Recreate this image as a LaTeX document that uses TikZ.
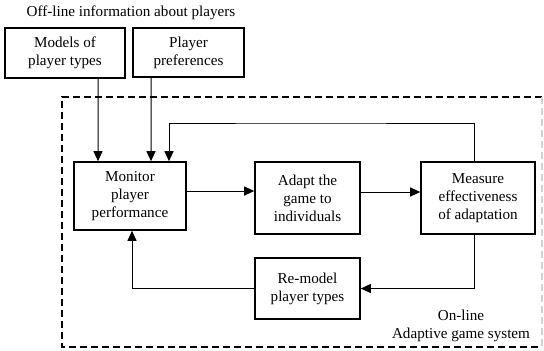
\documentclass[tikz,border=0pt]{standalone}
\usepackage{fontspec}
\setmainfont{Liberation Serif}
\usetikzlibrary{arrows.meta}

\tikzset{
  box/.style={draw, line width=1.6bp, align=center, inner sep=0pt,
    font=\fontsize{15.2}{18}\selectfont},
  arr/.style={line width=1bp, -{Triangle[length=10bp,width=9bp]}},
  txt/.style={align=center, inner sep=0pt, font=\fontsize{15.2}{18}\selectfont}
}

\begin{document}
\begin{tikzpicture}[x=1bp, y=-1bp]
\useasboundingbox (0,0) rectangle (544,350);

\def\xa{130};
\def\xb{307.5};
\def\xc{478};

\def\ya{198};
\def\yb{288.5};

% off-line part
\node[txt] (title) at (131, 13) {Off-line information about players};
\node[box, minimum width=120bp, minimum height=50bp] (models) at (65, 53) {Models of\\player types};
\node[box, minimum width=111bp, minimum height=49bp] (prefs) at (188.5, 52.5) {Player\\preferences};

% on-line system
\draw[line width=1.6bp, dash pattern=on 7bp off 4bp] (542,97) -- (62,97) -- (62,347) -- (542,347);
\draw[line width=1.2bp, gray!35, dash pattern=on 7bp off 4bp] (542,97) -- (542,347);

\node[box, minimum width=112bp, minimum height=68bp] (monitor) at (\xa, 196) {Monitor\\player\\performance};
\node[box, minimum width=105bp, minimum height=72bp] (adapt) at (\xb, \ya) {Adapt the\\game to\\individuals};
\node[box, minimum width=114bp, minimum height=72bp] (measure) at (\xc, \ya) {Measure\\effectiveness\\of adaptation};
\node[box, minimum width=105bp, minimum height=61bp] (remodel) at (\xb, \yb) {Re-model\\player types};
\node[txt] (online) at (461, 326) {On-line\\Adaptive game system};

\coordinate (fb) at (300, 123);

\draw[arr] (models.south -| 98, 0) -- ([xshift=-32bp]monitor.north);
\draw[arr] (prefs.south -| 151, 0) -- ([xshift=21bp]monitor.north);
\draw[arr] ([xshift=-4bp]measure.north) |- (fb) -| ([xshift=39bp]monitor.north);
\draw[arr] ([yshift=5bp]monitor.east) -- ([yshift=5bp]monitor.east -| adapt.west);
\draw[arr] ([yshift=6bp]adapt.east) -- ([yshift=6bp]adapt.east -| measure.west);
\draw[arr] ([xshift=-4bp]measure.south) |- (remodel.east);
\draw[arr] (remodel.west) -| ([xshift=2bp]monitor.south);
\end{tikzpicture}
\end{document}
